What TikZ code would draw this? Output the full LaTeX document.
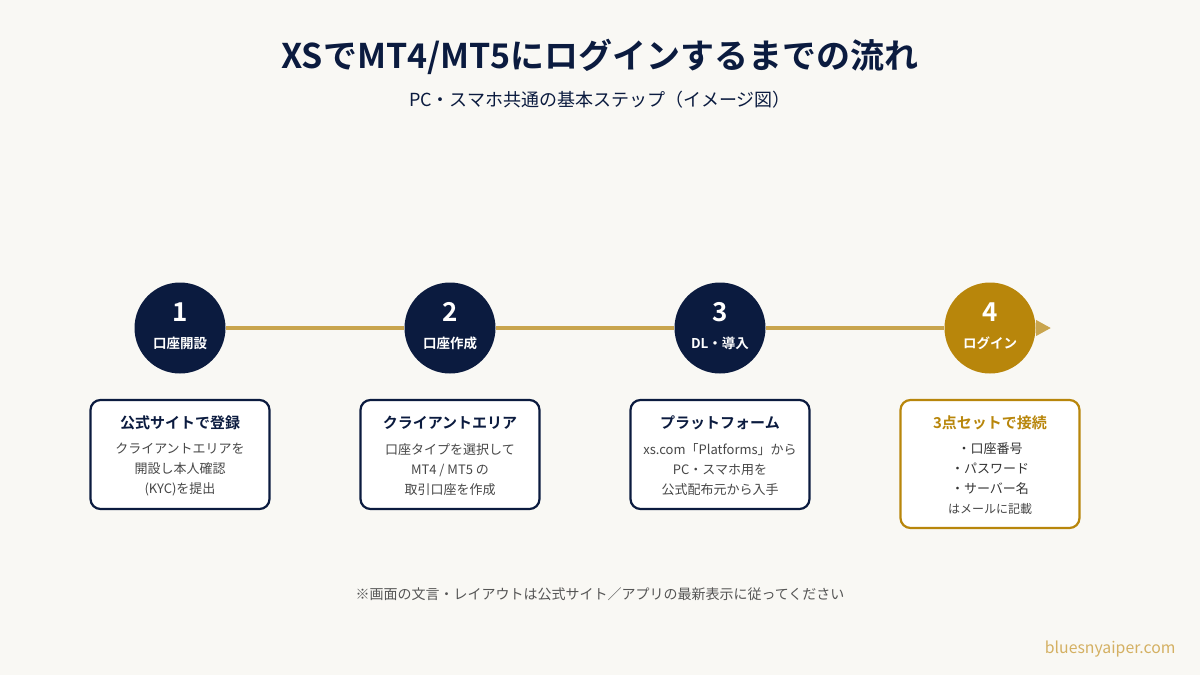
\documentclass[tikz,border=0pt]{standalone}
\usepackage{fontspec}
\setmainfont{Noto Sans CJK JP}[BoldFont={Noto Sans CJK JP Bold}]
\usetikzlibrary{arrows.meta}

\definecolor{navy}{HTML}{0B1B3F}
\definecolor{gold}{HTML}{B8860B}
\definecolor{linegold}{HTML}{C9A54E}
\definecolor{paper}{HTML}{F9F8F4}
\definecolor{bodygray}{HTML}{474747}
\definecolor{notegray}{HTML}{555555}
\definecolor{markgold}{HTML}{D4B062}

\begin{document}
\begin{tikzpicture}[x=1pt,y=-1pt,
    stepdot/.style={circle,minimum size=91pt,inner sep=0pt},
    stepnum/.style={text=white,font=\fontsize{26}{26}\selectfont\bfseries},
    steplabel/.style={text=white,font=\fontsize{13.5}{14}\selectfont\bfseries},
    card/.style={draw=navy,line width=2.2pt,rounded corners=10pt,fill=white,
        minimum width=179pt,minimum height=109pt,inner sep=0pt},
    cardtitle/.style={text=navy,font=\fontsize{15}{16}\selectfont\bfseries},
    cardtext/.style={text=bodygray,align=center,font=\fontsize{13}{20}\selectfont},
    flow/.style={linegold,line width=4pt}]
    \useasboundingbox (0,0) rectangle (1200,675);
    \fill[paper] (0,0) rectangle (1200,675);

    % heading
    \node[text=navy,font=\fontsize{34}{34}\selectfont\bfseries] (title) at (600,57)
        {XSでMT4/MT5にログインするまでの流れ};
    \node[text=navy,font=\fontsize{18}{18}\selectfont] (subtitle) at (600,100)
        {PC・スマホ共通の基本ステップ（イメージ図）};

    % step circles
    \foreach \i/\x/\c/\lab in {1/180/navy/口座開設,2/450/navy/口座作成,
                               3/720/navy/DL・導入,4/990/gold/ログイン}{
        \node[stepdot,fill=\c] (s\i) at (\x,328) {};
        \node[stepnum] (n\i) at (\x,312) {\i};
        \node[steplabel] (l\i) at (\x,343) {\lab};
    }
    \coordinate (tip) at (1051,328);
    \foreach \a/\b in {s1/s2,s2/s3,s3/s4}
        \draw[flow] (\a) -- (\b);
    \draw[flow,-{Triangle[length=15pt,width=15pt]}] (s4) -- (tip);

    % cards
    \node[card] (b1) at (180,454.5) {};
    \node[cardtitle] (t1) at (180,423) {公式サイトで登録};
    \node[cardtext] (d1) at (180,470) {クライアントエリアを\\開設し本人確認\\(KYC)を提出};

    \node[card] (b2) at (450,454.5) {};
    \node[cardtitle] (t2) at (450,423) {クライアントエリア};
    \node[cardtext] (d2) at (450,470) {口座タイプを選択して\\MT4 / MT5 の\\取引口座を作成};

    \node[card] (b3) at (720,454.5) {};
    \node[cardtitle] (t3) at (720,423) {プラットフォーム};
    \node[cardtext] (d3) at (720,470) {xs.com「Platforms」から\\PC・スマホ用を\\公式配布元から入手};

    \node[card,draw=gold,minimum height=128pt] (b4) at (990,464) {};
    \node[cardtitle,text=gold] (t4) at (990,423) {3点セットで接続};
    \node[cardtext,text=black!80] (d4) at (990,469) {・口座番号\\・パスワード\\・サーバー名};
    \node[text=bodygray,font=\fontsize{12}{12}\selectfont] (m4) at (990,509) {はメールに記載};

    % footnote
    \node[text=notegray,font=\fontsize{14}{14}\selectfont] (note) at (600,594)
        {※画面の文言・レイアウトは公式サイト／アプリの最新表示に従ってください};
    \node[anchor=east,text=markgold,font=\fontsize{15.8}{16}\selectfont] (mark) at (1179,649)
        {bluesnyaiper.com};
\end{tikzpicture}
\end{document}
